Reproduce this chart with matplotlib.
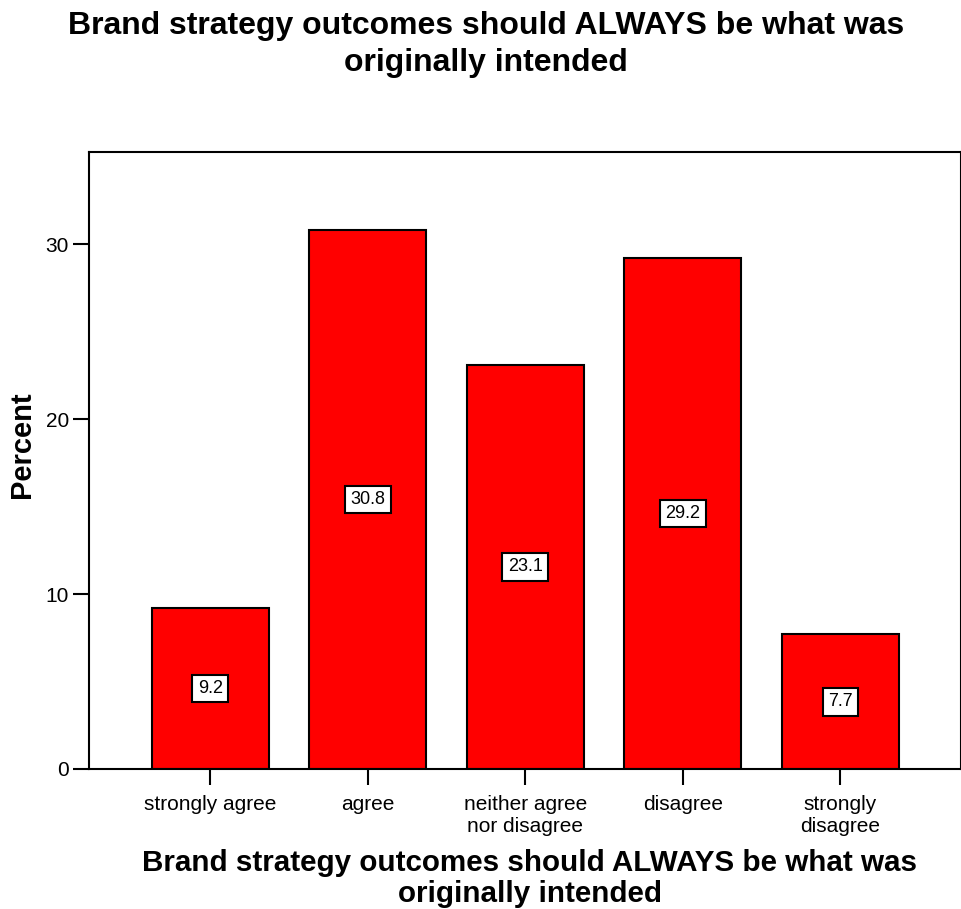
import matplotlib
matplotlib.use("Agg")
import matplotlib.pyplot as plt

plt.rcParams['font.family'] = ['Liberation Sans', 'DejaVu Sans']

categories = ['strongly agree', 'agree', 'neither agree\nnor disagree',
              'disagree', 'strongly\ndisagree']
percent = [9.2, 30.8, 23.1, 29.2, 7.7]
yticks = [0, 10, 20, 30]
question = 'Brand strategy outcomes should ALWAYS be what was\noriginally intended'

fig = plt.figure(figsize=(9.62, 9.09), dpi=100)
ax = fig.add_axes([89 / 962, 1 - 769 / 909, (961.5 - 89) / 962, (769 - 152) / 909])

x = range(len(categories))
ax.bar(x, percent, width=0.745, color='#ff0000', edgecolor='black', linewidth=1.5)

# value boxes sit halfway up each bar
for i, v in enumerate(percent):
    ax.text(i, v / 2, f'{v:.1f}', ha='center', va='center', fontsize=13,
            bbox=dict(boxstyle='square,pad=0.3', fc='white', ec='black', lw=1.5))

ax.set_xlim(-0.77, 4.77)
ax.set_ylim(0, 35.26)
ax.set_xticks(list(x))
ax.set_xticklabels(categories, fontsize=15, linespacing=1.25)
ax.set_yticks(yticks)
ax.set_yticklabels([str(t) for t in yticks], fontsize=15)
ax.tick_params(axis='both', direction='out', length=11.5, width=1.5, pad=3)
ax.tick_params(axis='x', pad=7)

for s in ax.spines.values():
    s.set_linewidth(1.5)

fig.text(486 / 962, 1 - 11 / 909, question, ha='center', va='top',
         fontsize=23, fontweight='bold', linespacing=1.3)
fig.text(530 / 962, 1 - 849 / 909, question, ha='center', va='top',
         fontsize=21.3, fontweight='bold', linespacing=1.15)
fig.text(22 / 962, 1 - 445 / 909, 'Percent', ha='center', va='center',
         rotation=90, fontsize=21, fontweight='bold')

fig.savefig('out.png', dpi=100)
